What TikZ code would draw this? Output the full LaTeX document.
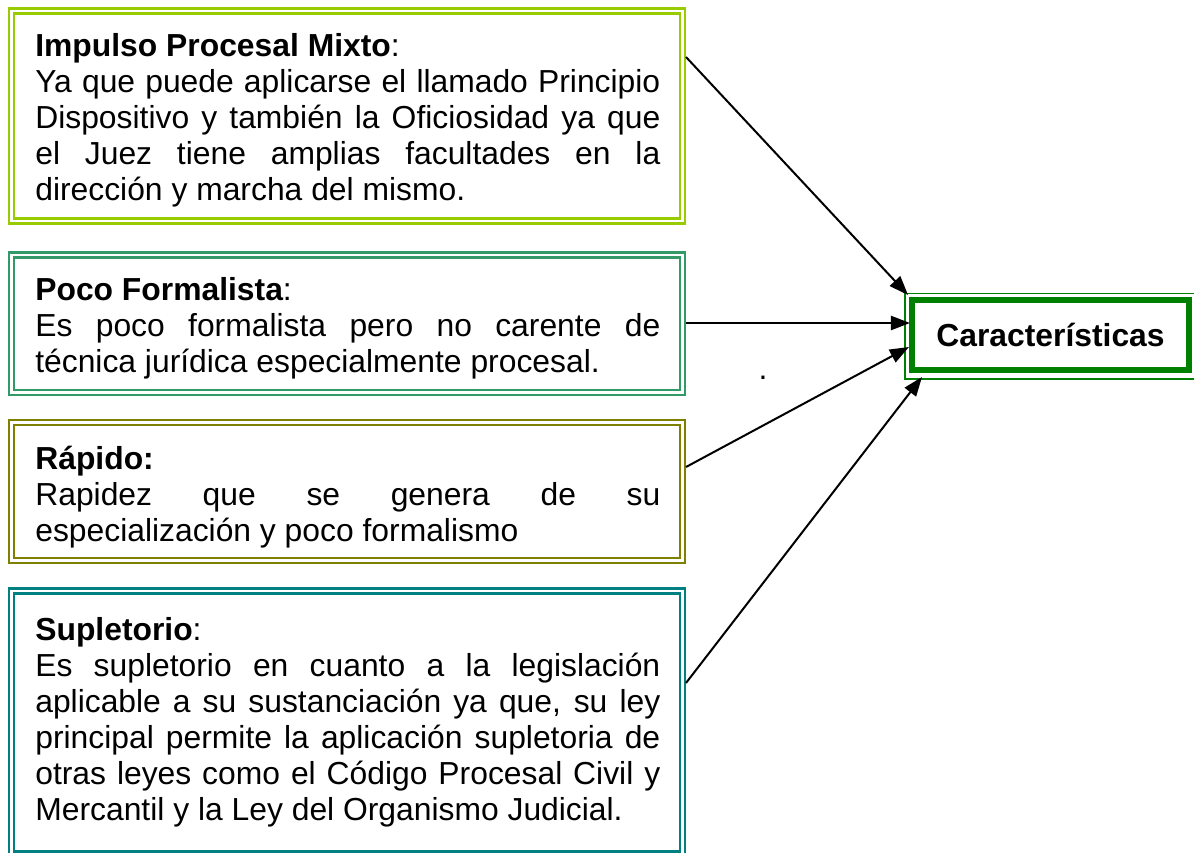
\documentclass[tikz,border=0pt]{standalone}
\usepackage{fontspec}
\setmainfont{Liberation Sans}
\usetikzlibrary{arrows.meta,fit}
\definecolor{cA}{HTML}{99CC00}
\definecolor{cB}{HTML}{339966}
\definecolor{cC}{HTML}{808000}
\definecolor{cD}{HTML}{008080}
\definecolor{cE}{HTML}{008000}
\tikzset{
  dbox/.style={draw=#1, double=white, line width=1.5pt, double distance=1.5pt, inner sep=0pt, rectangle},
  txt/.style={anchor=base west, inner sep=0pt, text width=375pt, align=justify,
    font=\fontsize{19.1}{21.6}\selectfont},
  arr/.style={line width=1.2pt, -{Triangle[length=11.5pt,width=8.5pt]}},
}
\begin{document}
\begin{tikzpicture}[x=0.6pt,y=-0.6pt]
\useasboundingbox (0,0) rectangle (1194,853);
\fill[white] (0,0) rectangle (1194,853);
% boxes
\node[dbox=cA, fit={(11.5,11) (682.5,221)}] (b1) {};
\node[dbox=cB, fit={(11.5,255) (682.5,392.5)}] (b2) {};
\node[dbox=cC, fit={(11.5,422.5) (682.5,560.5)}] (b3) {};
\node[dbox=cD, fit={(11.5,591) (682.5,854)}] (b4) {};
% texts
\node[txt] (t1) at (35,57) {\hyphenpenalty=10000 {\bfseries Impulso Procesal Mixto}:\newline
Ya que puede aplicarse el llamado Principio\linebreak
Dispositivo y también la Oficiosidad ya que\linebreak
el Juez tiene amplias facultades en la\linebreak
dirección y marcha del mismo.};
\node[txt] (t2) at (35,301) {\hyphenpenalty=10000 {\bfseries Poco Formalista}:\newline
Es poco formalista pero no carente de\linebreak
técnica jurídica especialmente procesal.};
\node[txt] (t3) at (35,469.5) {\hyphenpenalty=10000 {\bfseries Rápido:}\newline
Rapidez que se genera de su\linebreak
especialización y poco formalismo};
\node[txt] (t4) at (35,640) {\hyphenpenalty=10000 {\bfseries Supletorio}:\newline
Es supletorio en cuanto a la legislación\linebreak
aplicable a su sustanciación ya que, su ley\linebreak
principal permite la aplicación supletoria de\linebreak
otras leyes como el Código Procesal Civil y\linebreak
Mercantil y la Ley del Organismo Judicial.};
% characteristics box
\node[draw=cE, line width=0.9pt, inner sep=0pt, fit={(905,293.5) (1197,379)}] (cout) {};
\node[draw=cE, line width=3.6pt, inner sep=0pt, fit={(912,300) (1189,369.5)}] (car) {};
\node[font=\fontsize{19.1}{21.6}\selectfont\bfseries, inner sep=0pt] (cl) at (car.center) {Características};
\node[font=\fontsize{19.1}{21.6}\selectfont, inner sep=0pt, anchor=base] (dot) at (763,380) {.};
% connector end points
\coordinate (s1) at (686,57);
\coordinate (s2) at (686,323);
\coordinate (s3) at (686,467);
\coordinate (s4) at (686,683);
\coordinate (e1) at (908,295);
\coordinate (e2) at (910,323);
\coordinate (e3) at (909,347);
\coordinate (e4) at (922,377);
\draw[arr] (s1) -- (e1);
\draw[arr] (s2) -- (e2);
\draw[arr] (s3) -- (e3);
\draw[arr] (s4) -- (e4);
\end{tikzpicture}
\end{document}
